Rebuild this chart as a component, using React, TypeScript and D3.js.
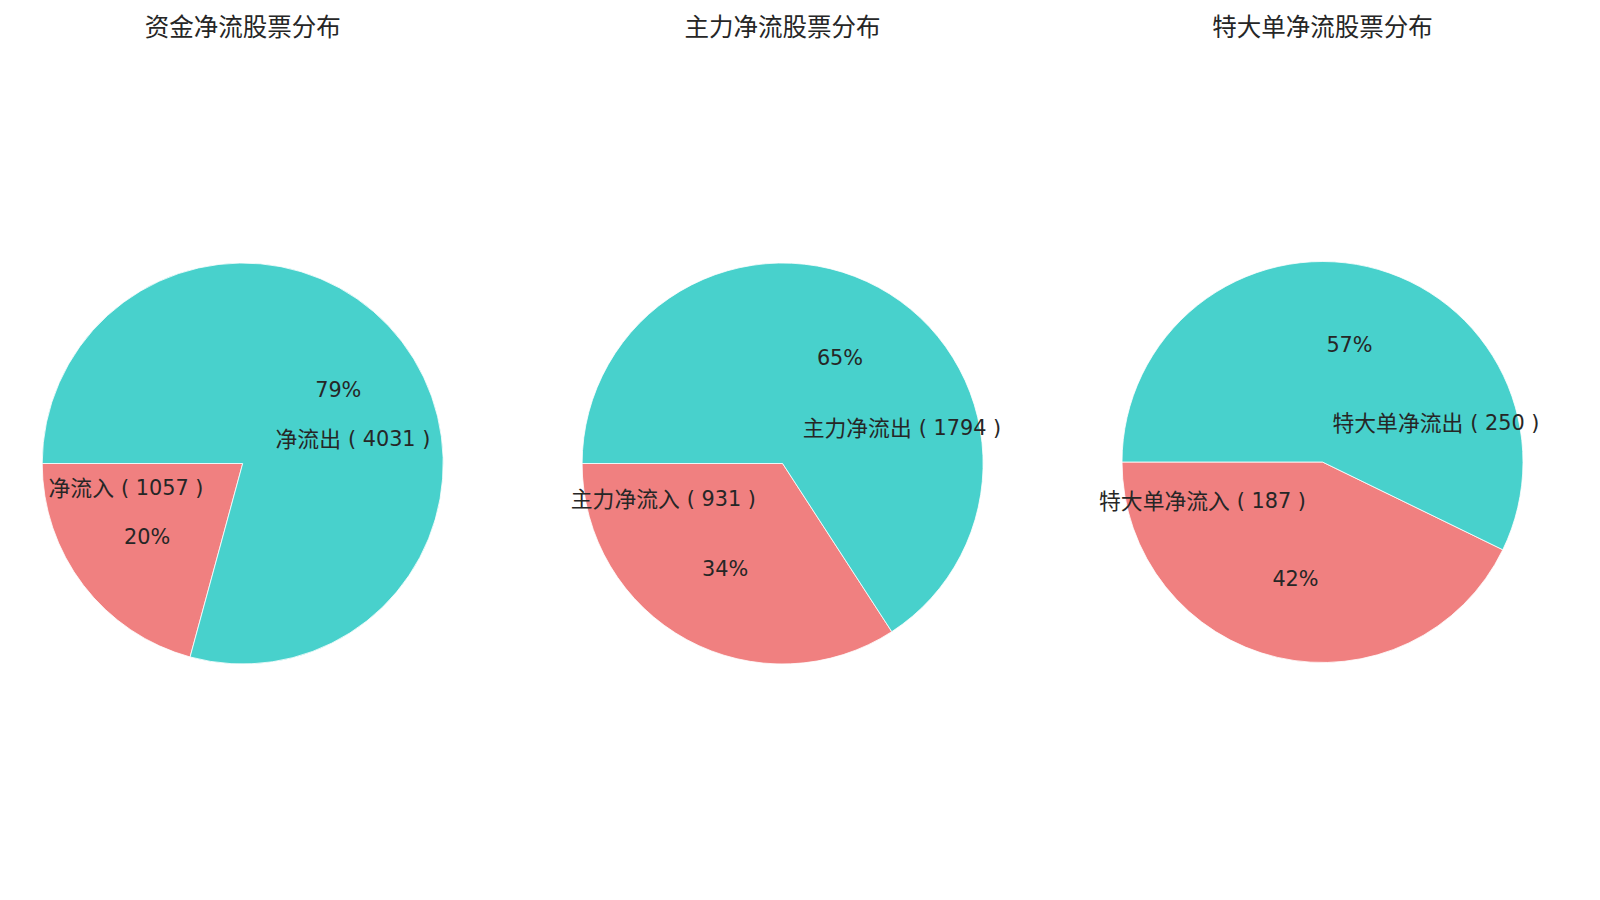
import React from "react";
import * as d3 from "d3";

const titles = ["资金净流股票分布", "主力净流股票分布", "特大单净流股票分布"];
const inflowLabels = ["净流入", "主力净流入", "特大单净流入"];
const outflowLabels = ["净流出", "主力净流出", "特大单净流出"];
const inflowValues = [1057, 931, 187];
const outflowValues = [4031, 1794, 250];
const colors = ["#F08080", "#48D1CC"];

const W = 1600;
const H = 900;
const R = 200.5;
const CYS = [463.5, 463.5, 462];
const FONT = "'DejaVu Sans', 'Noto Sans CJK SC', sans-serif";

export default function App() {
  const xPos = d3.scalePoint<string>().domain(titles).range([242.7, 1322.5]);
  const pie = d3
    .pie<{ label: string; value: number }>()
    .value((d) => d.value)
    .sort(null)
    .startAngle(-Math.PI / 2)
    .endAngle(-Math.PI / 2 - 2 * Math.PI);
  const arc = d3.arc<d3.PieArcDatum<{ label: string; value: number }>>().innerRadius(0).outerRadius(R);

  return (
    <svg width={W} height={H} style={{ position: "absolute", left: 0, top: 0 }}>
      <rect width={W} height={H} fill="#fff" />
      {titles.map((t, i) => {
        const cx = xPos(t)!;
        const data = [
          { label: inflowLabels[i], value: inflowValues[i] },
          { label: outflowLabels[i], value: outflowValues[i] },
        ];
        const total = data[0].value + data[1].value;
        const arcs = pie(data);
        return (
          <g key={t}>
            <text x={cx} y={36} textAnchor="middle" fontFamily={FONT} fontSize={24.5} fill="#262626">
              {t}
            </text>
            <g transform={`translate(${cx},${CYS[i]})`}>
              {arcs.map((a, j) => (
                <path key={j} d={arc(a)!} fill={colors[j]} stroke="#fff" strokeWidth={0.8} />
              ))}
              {arcs.map((a, j) => {
                const mid = (a.startAngle + a.endAngle) / 2;
                const lx = Math.sin(mid) * R * 0.2;
                const ly = -Math.cos(mid) * R * 0.2;
                const px = Math.sin(mid) * R * 0.6;
                const py = -Math.cos(mid) * R * 0.6;
                const pct = Math.floor((a.data.value / total) * 100);
                const right = lx >= 0;
                return (
                  <g key={"t" + j}>
                    <text
                      x={right ? lx + 1 : lx - 7.5}
                      y={ly}
                      textAnchor={right ? "start" : "end"}
                      dominantBaseline="central"
                      fontFamily={FONT}
                      fontSize={20.8}
                      fill="#262626"
                      style={{ whiteSpace: "pre" }}
                    >
                      <tspan fontSize={21.8}>{a.data.label}</tspan>
                      <tspan dx={7}>{`( ${a.data.value} )`}</tspan>
                    </text>
                    <text
                      x={px}
                      y={py}
                      textAnchor="middle"
                      dominantBaseline="central"
                      fontFamily={FONT}
                      fontSize={20.8}
                      fill="#262626"
                    >
                      {`${pct}%`}
                    </text>
                  </g>
                );
              })}
            </g>
          </g>
        );
      })}
    </svg>
  );
}
